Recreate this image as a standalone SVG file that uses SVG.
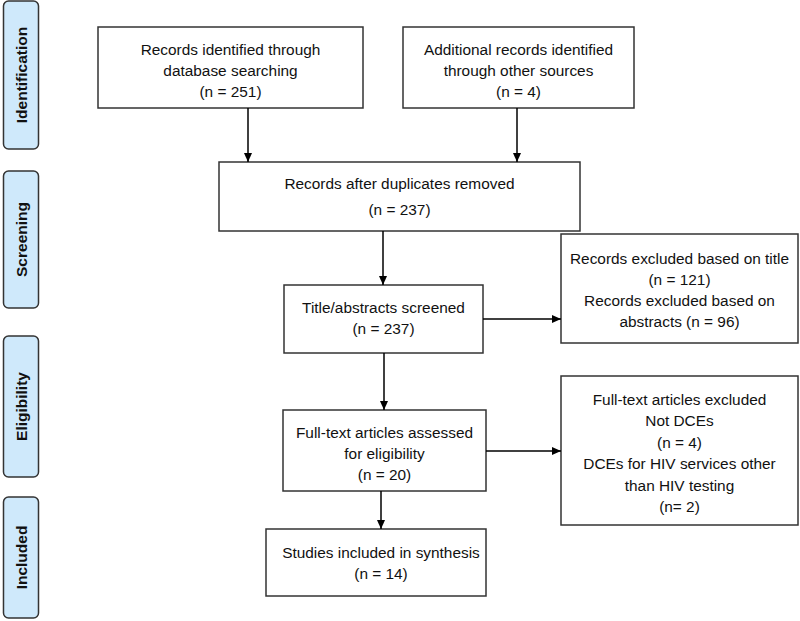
<svg xmlns="http://www.w3.org/2000/svg" width="800" height="621" viewBox="0 0 800 621">
<style>
.box{fill:#fff;stroke:#333;stroke-width:1.5}
.side{fill:#cfe9fb;stroke:#333;stroke-width:1.5}
.t{font-family:"Liberation Sans",Arial,sans-serif;font-size:15.4px;fill:#111;text-anchor:middle}
.s{font-family:"Liberation Sans",Arial,sans-serif;font-size:15.5px;font-weight:bold;fill:#111;text-anchor:middle}
.c{stroke:#000;stroke-width:1.5;fill:none;marker-end:url(#ah)}
</style>
<defs>
<marker id="ah" markerWidth="10" markerHeight="10" refX="9" refY="5" orient="auto" markerUnits="userSpaceOnUse">
<path d="M0,1 L9,5 L0,9 Z" fill="#000"/>
</marker>
</defs>
<rect width="800" height="621" fill="#fff"/>
<g id="side-identification"><rect class="side" x="3.5" y="1" width="35" height="148" rx="5"/><text class="s" transform="translate(26.5,75) rotate(-90)">Identification</text></g>
<g id="side-screening"><rect class="side" x="3.5" y="171" width="35" height="137" rx="5"/><text class="s" transform="translate(26.5,239.5) rotate(-90)">Screening</text></g>
<g id="side-eligibility"><rect class="side" x="3.5" y="336" width="35" height="141" rx="5"/><text class="s" transform="translate(26.5,406.5) rotate(-90)">Eligibility</text></g>
<g id="side-included"><rect class="side" x="3.5" y="497" width="35" height="121" rx="5"/><text class="s" transform="translate(26.5,557.5) rotate(-90)">Included</text></g>

<g id="n-db"><rect class="box" x="98" y="27" width="265" height="81"/>
<text class="t" x="230.5" y="55">Records identified through</text>
<text class="t" x="230.5" y="76">database searching</text>
<text class="t" x="230.5" y="97">(n = 251)</text></g>
<g id="n-other"><rect class="box" x="403" y="27" width="231" height="81"/>
<text class="t" x="518.5" y="55">Additional records identified</text>
<text class="t" x="518.5" y="76">through other sources</text>
<text class="t" x="518.5" y="97">(n = 4)</text></g>
<g id="n-dup"><rect class="box" x="219" y="162" width="361" height="69"/>
<text class="t" x="399.5" y="189">Records after duplicates removed</text>
<text class="t" x="399.5" y="215">(n = 237)</text></g>
<g id="n-screen"><rect class="box" x="284" y="285" width="199" height="68"/>
<text class="t" x="383.5" y="313">Title/abstracts screened</text>
<text class="t" x="383.5" y="334">(n = 237)</text></g>
<g id="n-excl1"><rect class="box" x="561" y="234" width="237" height="109"/>
<text class="t" x="679.5" y="264">Records excluded based on title</text>
<text class="t" x="679.5" y="285">(n = 121)</text>
<text class="t" x="679.5" y="306">Records excluded based on</text>
<text class="t" x="679.5" y="327">abstracts (n = 96)</text></g>
<g id="n-full"><rect class="box" x="283" y="410" width="203" height="81"/>
<text class="t" x="384.5" y="438">Full-text articles assessed</text>
<text class="t" x="384.5" y="459">for eligibility</text>
<text class="t" x="384.5" y="480">(n = 20)</text></g>
<g id="n-excl2"><rect class="box" x="561" y="376" width="237" height="149"/>
<text class="t" x="679.5" y="405">Full-text articles excluded</text>
<text class="t" x="679.5" y="426">Not DCEs</text>
<text class="t" x="679.5" y="448">(n = 4)</text>
<text class="t" x="679.5" y="469">DCEs for HIV services other</text>
<text class="t" x="679.5" y="491">than HIV testing</text>
<text class="t" x="679.5" y="512">(n= 2)</text></g>
<g id="n-incl"><rect class="box" x="266" y="529" width="220" height="67"/>
<text class="t" x="381" y="558">Studies included in synthesis</text>
<text class="t" x="381" y="579">(n = 14)</text></g>

<g id="connectors">
<line class="c" x1="248" y1="108" x2="248" y2="162"/>
<line class="c" x1="517" y1="108" x2="517" y2="162"/>
<line class="c" x1="383" y1="231" x2="383" y2="285"/>
<line class="c" x1="384" y1="353" x2="384" y2="410"/>
<line class="c" x1="381" y1="491" x2="381" y2="529"/>
<line class="c" x1="483" y1="319" x2="561" y2="319"/>
<line class="c" x1="486" y1="451" x2="561" y2="451"/>
</g>
</svg>
